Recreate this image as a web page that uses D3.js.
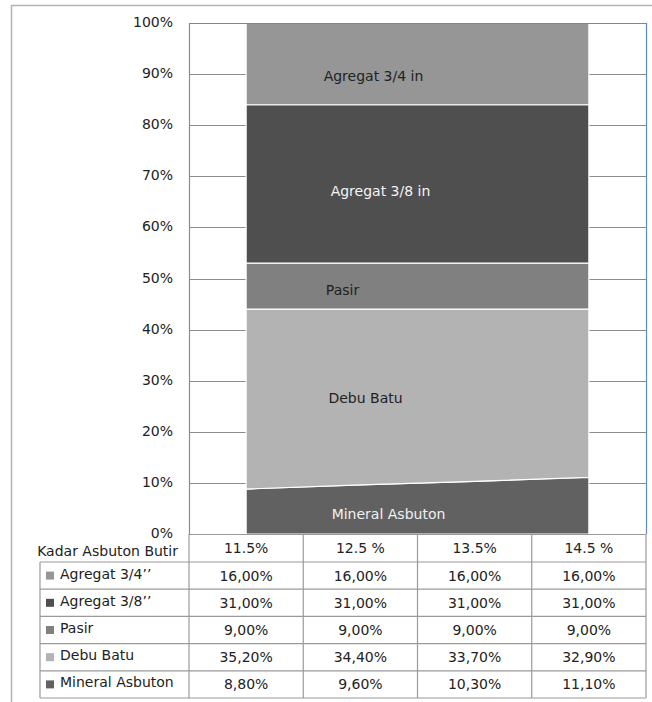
<!DOCTYPE html>
<html><head><meta charset="utf-8">
<script src="https://cdn.jsdelivr.net/npm/d3@7"></script>
<style>
html,body{margin:0;padding:0;background:#fff;}
svg{display:block;font-family:"DejaVu Sans",Verdana,sans-serif;}
</style></head>
<body>
<svg id="c" width="652" height="702"></svg>
<script>
// ---- data ----
const categories = ["11.5%", "12.5 %", "13.5%", "14.5 %"];
const seriesNames = ["Mineral Asbuton", "Debu Batu", "Pasir", "Agregat 3/8", "Agregat 3/4"];
const legendLabels = ["Agregat  3/4\u2019\u2019", "Agregat 3/8\u2019\u2019", "Pasir", "Debu Batu", "Mineral Asbuton"];
const areaLabels = ["Mineral Asbuton", "Debu Batu", "Pasir", "Agregat 3/8 in", "Agregat 3/4 in"];
const mineralAsbuton = [8.8, 9.6, 10.3, 11.1];
const debuBatu = [35.2, 34.4, 33.7, 32.9];
const pasir = [9.0, 9.0, 9.0, 9.0];
const agregat38 = [31.0, 31.0, 31.0, 31.0];
const agregat34 = [16.0, 16.0, 16.0, 16.0];
const yTicks = [0, 10, 20, 30, 40, 50, 60, 70, 80, 90, 100];
const headerLabel = "Kadar Asbuton Butir";

// ---- styles ----
const colors = {"Mineral Asbuton":"#616161","Debu Batu":"#b3b3b3","Pasir":"#808080","Agregat 3/8":"#4f4f4f","Agregat 3/4":"#969696"};
const labelColors = {"Mineral Asbuton":"#f0f0f0","Debu Batu":"#222","Pasir":"#222","Agregat 3/8":"#f4f4f4","Agregat 3/4":"#222"};
const labelDx = {"Mineral Asbuton":28,"Debu Batu":5,"Pasir":-18,"Agregat 3/8":20,"Agregat 3/4":13};
const labelDy = {"Mineral Asbuton":6,"Debu Batu":2,"Pasir":5,"Agregat 3/8":8,"Agregat 3/4":13};
const FS = 14;

const seriesData = {"Mineral Asbuton":mineralAsbuton,"Debu Batu":debuBatu,"Pasir":pasir,"Agregat 3/8":agregat38,"Agregat 3/4":agregat34};
const rows = categories.map((c,i)=>{const o={cat:c}; seriesNames.forEach(s=>o[s]=seriesData[s][i]); return o;});

const svg = d3.select("#c");
const L = 189, R = 646, T = 23, B = 534;
const x = d3.scalePoint().domain(categories).range([L,R]).padding(0.5);
const xb = d3.scaleBand().domain(categories).range([L,R]);
const y = d3.scaleLinear().domain([0,100]).range([B,T]);

// outer frame
svg.append("path").attr("d",`M11.5,702 V5.5 H652`).attr("fill","none").attr("stroke","#b4b4b4").attr("stroke-width",1.5);

// gridlines
svg.append("g").selectAll("line").data(yTicks.filter(d=>d>0)).join("line")
  .attr("x1",L).attr("x2",R).attr("y1",d=>Math.round(y(d))+0.5).attr("y2",d=>Math.round(y(d))+0.5)
  .attr("stroke","#8c8c8c").attr("stroke-width",1.2);

// stacked areas
const stack = d3.stack().keys(seriesNames);
const stacked = stack(rows);
const area = d3.area().x(d=>x(d.data.cat)).y0(d=>y(d[0])).y1(d=>y(d[1]));
svg.append("g").selectAll("path").data(stacked).join("path")
  .attr("d",area).attr("fill",d=>colors[d.key]).attr("stroke","#ffffff").attr("stroke-width",1.2);

// area labels
const lg = svg.append("g");
stacked.forEach((s,k)=>{
  const d = s[1];
  const mid = (d[0]+d[1])/2;
  const xm = (x(categories[0])+x(categories[3]))/2 - 57;
  lg.append("text").attr("x",xm+labelDx[s.key]).attr("y",y(mid)+labelDy[s.key])
    .attr("text-anchor","middle").attr("dominant-baseline","middle")
    .attr("font-size",FS).attr("fill",labelColors[s.key]).text(areaLabels[k]);
});

// plot border
svg.append("line").attr("x1",L+0.5).attr("x2",L+0.5).attr("y1",T).attr("y2",B).attr("stroke","#8c8c8c").attr("stroke-width",1.2);
svg.append("path").attr("d",`M${L},${T+0.5} H${R+0.5} V${B}`).attr("fill","none").attr("stroke","#5b8bd0").attr("stroke-width",1.2);

// y axis labels
svg.append("g").selectAll("text").data(yTicks).join("text")
  .attr("x",173).attr("y",d=>y(d)).attr("text-anchor","end").attr("dominant-baseline","middle")
  .attr("font-size",FS).attr("fill","#222").text(d=>d+"%");

// data table
const rowH = 27.2, hdrTop = B, hdrBot = 562;
const tbl = svg.append("g");
const lineC = "#9a9a9a";
const rowTops = d3.range(legendLabels.length+1).map(i=>hdrBot+i*rowH);
tbl.append("line").attr("x1",L).attr("x2",R).attr("y1",hdrTop+0.5).attr("y2",hdrTop+0.5).attr("stroke",lineC);
rowTops.forEach(yy=>tbl.append("line").attr("x1",40).attr("x2",R).attr("y1",yy).attr("y2",yy).attr("stroke",lineC).attr("stroke-width",1.2));
[L, ...categories.map(c=>xb(c)+xb.bandwidth())].forEach(xx=>
  tbl.append("line").attr("x1",xx).attr("x2",xx).attr("y1",hdrTop).attr("y2",rowTops[rowTops.length-1]).attr("stroke",lineC).attr("stroke-width",1.2));
tbl.append("line").attr("x1",40).attr("x2",40).attr("y1",hdrBot).attr("y2",rowTops[rowTops.length-1]).attr("stroke",lineC).attr("stroke-width",1.2);

// header
tbl.append("text").attr("x",178).attr("y",(hdrTop+hdrBot)/2+4).attr("text-anchor","end").attr("dominant-baseline","middle")
  .attr("font-size",FS).attr("fill","#222").text(headerLabel);
categories.forEach(c=>tbl.append("text").attr("x",x(c)).attr("y",(hdrTop+hdrBot)/2+1).attr("text-anchor","middle")
  .attr("dominant-baseline","middle").attr("font-size",FS).attr("fill","#222").text(c));

// rows (top series first)
const order = seriesNames.slice().reverse();
const fmt = v => v.toFixed(2).replace(".",",")+"%";
order.forEach((s,i)=>{
  const cy = rowTops[i]+rowH/2;
  tbl.append("rect").attr("x",46).attr("y",cy-4).attr("width",8).attr("height",8).attr("fill",colors[s]);
  tbl.append("text").attr("x",60).attr("y",cy-1).attr("dominant-baseline","middle").attr("font-size",FS).attr("fill","#222").text(legendLabels[i]);
  seriesData[s].forEach((v,j)=>tbl.append("text").attr("x",x(categories[j])).attr("y",cy+1)
    .attr("text-anchor","middle").attr("dominant-baseline","middle").attr("font-size",FS).attr("fill","#222").text(fmt(v)));
});
</script>
</body></html>
